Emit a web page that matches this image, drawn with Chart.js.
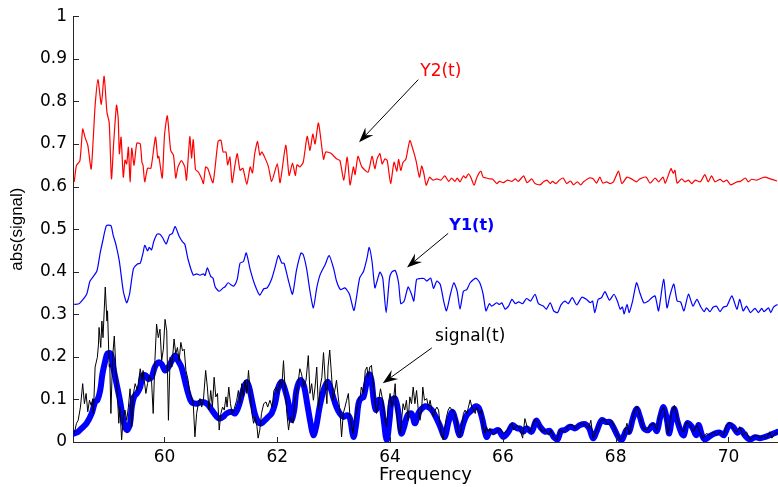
<!DOCTYPE html>
<html>
<head>
<meta charset="utf-8">
<script src="https://cdn.jsdelivr.net/npm/chart.js@4.4.1/dist/chart.umd.min.js"></script>
<style>
  html, body { margin: 0; padding: 0; background: #fff; }
</style>
</head>
<body>
<canvas id="spectrumChart" width="778" height="487"></canvas>
<script>
// Y2(t) - red trace
var y2Freq = [
  58.40,58.44,58.50,58.55,58.59,58.64,58.70,58.74,58.77,58.82,
  58.88,58.93,58.98,59.02,59.06,59.10,59.15,59.18,59.20,59.23,
  59.27,59.30,59.33,59.36,59.39,59.42,59.46,59.51,59.57,59.60,
  59.62,59.65,59.70,59.76,59.84,59.88,59.90,59.96,60.00,60.05,
  60.11,60.16,60.20,60.24,60.30,60.36,60.39,60.45,60.48,60.51,
  60.55,60.60,60.66,60.69,60.73,60.77,60.86,60.95,61.00,61.04,
  61.09,61.12,61.16,61.20,61.25,61.29,61.34,61.39,61.46,61.52,
  61.56,61.60,61.65,61.69,61.73,61.84,61.90,62.00,62.05,62.15,
  62.21,62.27,62.32,62.35,62.40,62.46,62.53,62.58,62.63,62.67,
  62.73,62.82,62.86,62.95,63.05,63.11,63.18,63.24,63.29,63.35,
  63.38,63.43,63.50,63.61,63.68,63.73,63.77,63.82,63.86,63.91,
  63.95,64.01,64.07,64.12,64.15,64.19,64.23,64.28,64.35,64.41,
  64.46,64.52,64.56,64.60,64.64,64.70,64.76,64.83,64.90,64.97,
  65.04,65.09,65.15,65.19,65.24,65.30,65.34,65.39,65.43,65.49,
  65.54,65.61,65.65,65.71,65.77,65.82,65.89,65.94,66.01,66.08,
  66.16,66.22,66.27,66.33,66.37,66.43,66.51,66.57,66.66,66.72,
  66.78,66.84,66.88,66.94,67.00,67.07,67.13,67.20,67.25,67.32,
  67.38,67.43,67.53,67.60,67.66,67.72,67.77,67.84,67.90,67.96,
  68.05,68.11,68.20,68.28,68.37,68.43,68.54,68.61,68.70,68.76,
  68.84,68.88,68.98,69.02,69.05,69.09,69.17,69.23,69.29,69.35,
  69.41,69.50,69.58,69.64,69.70,69.76,69.85,69.91,69.97,70.04,
  70.15,70.21,70.30,70.35,70.41,70.50,70.59,70.65,70.74,70.86
];
var y2Val = [
  0.611,0.650,0.660,0.735,0.716,0.697,0.641,0.720,0.790,0.851,
  0.793,0.859,0.774,0.750,0.618,0.704,0.791,0.758,0.677,0.716,
  0.622,0.662,0.653,0.692,0.611,0.690,0.650,0.702,0.700,0.657,
  0.650,0.611,0.643,0.643,0.716,0.667,0.671,0.620,0.720,0.766,
  0.685,0.673,0.620,0.646,0.661,0.646,0.615,0.717,0.667,0.710,
  0.640,0.634,0.618,0.607,0.646,0.642,0.609,0.706,0.709,0.681,
  0.681,0.651,0.669,0.609,0.651,0.677,0.638,0.643,0.605,0.646,
  0.632,0.677,0.706,0.674,0.681,0.648,0.612,0.653,0.609,0.697,
  0.626,0.655,0.626,0.651,0.646,0.657,0.718,0.685,0.723,0.700,
  0.749,0.664,0.681,0.678,0.665,0.661,0.615,0.669,0.604,0.646,
  0.628,0.671,0.646,0.634,0.671,0.642,0.665,0.677,0.653,0.665,
  0.661,0.607,0.657,0.636,0.664,0.638,0.657,0.664,0.708,0.685,
  0.661,0.622,0.648,0.630,0.603,0.622,0.615,0.618,0.615,0.625,
  0.612,0.620,0.612,0.620,0.611,0.625,0.620,0.630,0.622,0.603,
  0.622,0.636,0.622,0.620,0.618,0.617,0.607,0.612,0.609,0.615,
  0.612,0.618,0.612,0.620,0.625,0.609,0.618,0.607,0.604,0.611,
  0.615,0.607,0.612,0.607,0.615,0.620,0.607,0.613,0.604,0.611,
  0.604,0.611,0.620,0.618,0.608,0.622,0.608,0.611,0.607,0.611,
  0.636,0.607,0.622,0.618,0.611,0.618,0.622,0.608,0.620,0.611,
  0.622,0.608,0.642,0.631,0.638,0.608,0.618,0.611,0.615,0.607,
  0.615,0.611,0.628,0.611,0.625,0.611,0.617,0.611,0.615,0.604,
  0.611,0.612,0.620,0.611,0.617,0.615,0.620,0.622,0.618,0.613
];

// Y1(t) - thin blue trace
var y1Freq = [
  58.40,58.49,58.62,58.68,58.80,58.86,58.91,58.97,59.05,59.09,
  59.14,59.20,59.27,59.33,59.38,59.45,59.52,59.57,59.62,59.65,
  59.70,59.73,59.77,59.81,59.87,59.92,59.97,60.03,60.09,60.14,
  60.19,60.26,60.32,60.36,60.42,60.51,60.57,60.63,60.69,60.72,
  60.76,60.82,60.86,60.90,60.97,61.04,61.07,61.13,61.19,61.23,
  61.29,61.34,61.40,61.45,61.52,61.60,61.69,61.76,61.82,61.90,
  61.96,62.02,62.08,62.12,62.20,62.27,62.34,62.42,62.46,62.52,
  62.58,62.64,62.70,62.76,62.85,62.92,63.00,63.05,63.12,63.20,
  63.28,63.36,63.46,63.53,63.59,63.63,63.68,63.73,63.77,63.82,
  63.87,63.93,63.99,64.03,64.09,64.15,64.19,64.25,64.32,64.38,
  64.42,64.47,64.53,64.60,64.65,64.72,64.77,64.83,64.89,64.95,
  65.00,65.07,65.13,65.19,65.24,65.30,65.36,65.42,65.52,65.59,
  65.65,65.70,65.76,65.80,65.89,65.94,65.98,66.04,66.10,66.16,
  66.22,66.28,66.35,66.42,66.49,66.57,66.63,66.72,66.77,66.84,
  66.90,66.97,67.03,67.10,67.16,67.23,67.31,67.40,67.48,67.55,
  67.59,67.63,67.69,67.75,67.81,67.89,67.97,68.03,68.08,68.12,
  68.15,68.20,68.24,68.30,68.37,68.43,68.50,68.58,68.64,68.70,
  68.76,68.85,68.91,68.96,69.03,69.09,69.15,69.21,69.29,69.37,
  69.44,69.51,69.57,69.61,69.67,69.73,69.79,69.85,69.91,69.97,
  70.06,70.15,70.20,70.26,70.32,70.39,70.47,70.53,70.59,70.63,
  70.71,70.75,70.80,70.87
];
var y1Val = [
  0.323,0.325,0.347,0.378,0.401,0.444,0.475,0.508,0.508,0.486,
  0.463,0.424,0.354,0.327,0.347,0.407,0.418,0.420,0.444,0.462,
  0.449,0.457,0.451,0.471,0.488,0.488,0.479,0.465,0.486,0.490,
  0.506,0.483,0.470,0.465,0.428,0.392,0.395,0.392,0.395,0.391,
  0.409,0.389,0.385,0.364,0.354,0.362,0.364,0.374,0.368,0.366,
  0.382,0.420,0.424,0.444,0.405,0.370,0.345,0.360,0.362,0.383,
  0.410,0.438,0.420,0.420,0.378,0.347,0.403,0.444,0.440,0.407,
  0.354,0.315,0.362,0.393,0.417,0.438,0.407,0.378,0.358,0.362,
  0.347,0.309,0.385,0.401,0.431,0.457,0.424,0.362,0.378,0.399,
  0.385,0.304,0.385,0.399,0.403,0.374,0.325,0.331,0.364,0.347,
  0.331,0.382,0.384,0.384,0.378,0.385,0.361,0.378,0.370,0.331,
  0.308,0.347,0.374,0.354,0.312,0.354,0.358,0.374,0.385,0.374,
  0.347,0.308,0.325,0.319,0.327,0.323,0.327,0.312,0.319,0.335,
  0.325,0.329,0.325,0.337,0.331,0.347,0.325,0.319,0.312,0.327,
  0.308,0.304,0.322,0.331,0.325,0.339,0.322,0.340,0.335,0.327,
  0.331,0.304,0.335,0.339,0.353,0.333,0.347,0.331,0.312,0.317,
  0.301,0.323,0.304,0.331,0.374,0.350,0.327,0.331,0.339,0.343,
  0.308,0.382,0.315,0.343,0.371,0.331,0.329,0.308,0.347,0.319,
  0.335,0.317,0.306,0.315,0.306,0.317,0.319,0.306,0.317,0.319,
  0.343,0.312,0.335,0.308,0.319,0.304,0.314,0.304,0.314,0.306,
  0.315,0.304,0.317,0.323
];

// signal(t) - thin black trace
var sigFreq = [
  58.40,58.44,58.47,58.51,58.55,58.58,58.61,58.64,58.67,58.70,
  58.73,58.74,58.77,58.81,58.83,58.84,58.87,58.89,58.91,58.95,
  58.98,58.99,59.02,59.03,59.05,59.08,59.11,59.14,59.17,59.19,
  59.21,59.24,59.27,59.30,59.33,59.36,59.39,59.42,59.45,59.48,
  59.52,59.57,59.60,59.62,59.67,59.70,59.73,59.77,59.80,59.83,
  59.86,59.89,59.92,59.95,59.98,60.01,60.04,60.07,60.10,60.13,
  60.17,60.20,60.23,60.26,60.29,60.32,60.35,60.38,60.42,60.45,
  60.48,60.51,60.54,60.57,60.60,60.63,60.66,60.69,60.73,60.76,
  60.79,60.82,60.85,60.88,60.91,60.94,60.97,61.00,61.03,61.06,
  61.09,61.11,61.14,61.17,61.20,61.23,61.28,61.31,61.34,61.37,
  61.40,61.43,61.46,61.49,61.52,61.55,61.58,61.61,61.64,61.66,
  61.69,61.72,61.76,61.80,61.83,61.87,61.91,61.94,61.98,62.01,
  62.05,62.08,62.11,62.14,62.17,62.20,62.23,62.28,62.31,62.36,
  62.40,62.43,62.47,62.51,62.55,62.58,62.61,62.64,62.67,62.70,
  62.73,62.76,62.79,62.82,62.85,62.88,62.90,62.93,62.96,62.99,
  63.02,63.05,63.08,63.11,63.14,63.17,63.20,63.23,63.26,63.29,
  63.31,63.34,63.37,63.41,63.44,63.47,63.49,63.53,63.56,63.59,
  63.61,63.64,63.67,63.70,63.73,63.76,63.79,63.83,63.87,63.91,
  63.94,63.97,64.00,64.03,64.06,64.09,64.11,64.14,64.18,64.21,
  64.23,64.26,64.29,64.32,64.35,64.38,64.41,64.44,64.47,64.50,
  64.53,64.56,64.58,64.61,64.65,64.68,64.71,64.74,64.77,64.80,
  64.83,64.86,64.89,64.91,64.94,64.97,65.00,65.03,65.06,65.10,
  65.14,65.18,65.21,65.24,65.27,65.30,65.33,65.36,65.39,65.42,
  65.45,65.48,65.51,65.53,65.56,65.59,65.62,65.65,65.68,65.71,
  65.74,65.77,65.83,65.89,65.95,66.01,66.07,66.13,66.16,66.19,
  66.25,66.30,66.35,66.39,66.43,66.48,66.57,66.63,66.69,66.75,
  66.81,66.85,66.90,66.96,67.01,67.07,67.13,67.19,67.24,67.28,
  67.34,67.40,67.46,67.52,67.56,67.60,67.65,67.69,67.75,67.81,
  67.87,67.93,67.97,68.02,68.08,68.14,68.20,68.24,68.30,68.34,
  68.38,68.43,68.49,68.55,68.62,68.67,68.73,68.79,68.85,68.89,
  68.93,68.99,69.04,69.09,69.15,69.20,69.26,69.32,69.38,69.44,
  69.49,69.55,69.61,69.67,69.73,69.79,69.85,69.91,69.96,70.00,
  70.04,70.10,70.15,70.20,70.26,70.32,70.38,70.44,70.50,70.56,
  70.62,70.68,70.73,70.77,70.83,70.87
];
var sigVal = [
  0.020,0.044,0.051,0.082,0.137,0.090,0.114,0.071,0.098,0.086,
  0.102,0.067,0.176,0.199,0.230,0.269,0.222,0.284,0.245,0.364,
  0.284,0.308,0.176,0.183,0.067,0.199,0.249,0.168,0.098,0.044,
  0.082,0.005,0.059,0.075,0.051,0.082,0.125,0.036,0.114,0.137,
  0.121,0.172,0.145,0.168,0.114,0.137,0.156,0.145,0.067,0.191,
  0.277,0.245,0.265,0.191,0.218,0.288,0.261,0.051,0.199,0.176,
  0.242,0.207,0.222,0.191,0.234,0.214,0.218,0.168,0.145,0.114,
  0.106,0.090,0.012,0.067,0.090,0.102,0.082,0.098,0.168,0.129,
  0.075,0.121,0.082,0.152,0.106,0.114,0.028,0.067,0.082,0.075,
  0.106,0.082,0.129,0.090,0.067,0.075,0.098,0.121,0.090,0.137,
  0.106,0.145,0.114,0.168,0.114,0.067,0.044,0.059,0.036,0.009,
  0.028,0.067,0.090,0.094,0.082,0.098,0.082,0.121,0.129,0.114,
  0.145,0.129,0.191,0.121,0.067,0.028,0.059,0.044,0.098,0.129,
  0.172,0.160,0.129,0.145,0.203,0.114,0.137,0.098,0.129,0.176,
  0.075,0.129,0.152,0.210,0.145,0.090,0.176,0.216,0.160,0.098,
  0.121,0.145,0.106,0.075,0.012,0.067,0.082,0.098,0.114,0.059,
  0.044,0.020,0.051,0.075,0.098,0.106,0.129,0.114,0.168,0.176,
  0.152,0.176,0.180,0.137,0.098,0.067,0.090,0.125,0.098,0.051,
  0.036,0.090,0.114,0.082,0.098,0.137,0.075,0.036,0.020,0.059,
  0.090,0.075,0.098,0.051,0.106,0.090,0.129,0.090,0.121,0.075,
  0.051,0.075,0.129,0.098,0.102,0.082,0.098,0.075,0.059,0.075,
  0.082,0.075,0.036,0.020,0.005,0.036,0.059,0.075,0.082,0.075,
  0.067,0.051,0.020,0.012,0.036,0.067,0.075,0.067,0.082,0.099,
  0.082,0.075,0.067,0.082,0.075,0.067,0.075,0.036,0.020,0.036,
  0.024,0.032,0.016,0.024,0.032,0.020,0.028,0.036,0.044,0.028,
  0.040,0.032,0.009,0.055,0.036,0.024,0.053,0.044,0.024,0.028,
  0.016,0.028,0.012,0.005,0.028,0.024,0.032,0.040,0.040,0.032,
  0.040,0.044,0.040,0.032,0.051,0.009,0.024,0.036,0.053,0.051,
  0.040,0.051,0.036,0.020,0.005,0.012,0.044,0.020,0.055,0.075,
  0.084,0.059,0.032,0.028,0.040,0.044,0.028,0.067,0.082,0.055,
  0.020,0.067,0.086,0.055,0.032,0.024,0.047,0.040,0.024,0.040,
  0.024,0.009,0.020,0.016,0.024,0.016,0.024,0.016,0.036,0.044,
  0.044,0.028,0.024,0.036,0.016,0.024,0.005,0.012,0.016,0.009,
  0.014,0.009,0.024,0.009,0.022,0.020
];

// smoothed signal - thick blue trace
var smoothFreq = [
  58.40,58.47,58.53,58.62,58.71,58.77,58.81,58.86,58.90,58.95,
  58.99,59.05,59.09,59.15,59.21,59.26,59.30,59.34,59.39,59.42,
  59.46,59.51,59.57,59.61,59.67,59.71,59.77,59.83,59.89,59.95,
  60.01,60.07,60.13,60.19,60.24,60.30,60.36,60.42,60.48,60.57,
  60.66,60.75,60.84,60.93,60.98,61.04,61.10,61.19,61.25,61.31,
  61.37,61.41,61.46,61.50,61.55,61.60,61.66,61.72,61.78,61.84,
  61.90,61.96,62.02,62.08,62.14,62.20,62.25,62.30,62.34,62.41,62.47,
  62.53,62.59,62.64,62.69,62.75,62.82,62.89,62.94,62.99,63.05,
  63.11,63.17,63.24,63.29,63.35,63.40,63.44,63.48,63.53,63.58,
  63.63,63.67,63.71,63.75,63.79,63.83,63.88,63.94,63.99,64.03,
  64.09,64.15,64.20,64.25,64.31,64.38,64.44,64.50,64.56,64.62,
  64.68,64.74,64.81,64.89,64.97,65.03,65.10,65.16,65.23,65.30,
  65.36,65.45,65.52,65.58,65.64,65.71,65.77,65.84,65.92,66.01,
  66.10,66.17,66.25,66.30,66.36,66.42,66.51,66.59,66.66,66.75,
  66.83,66.90,66.97,67.03,67.10,67.19,67.28,67.37,67.46,67.53,
  67.60,67.66,67.75,67.83,67.90,67.97,68.05,68.11,68.19,68.24,
  68.30,68.37,68.43,68.50,68.58,68.66,68.73,68.79,68.85,68.91,
  68.95,69.00,69.04,69.09,69.17,69.21,69.27,69.35,69.43,69.47,
  69.53,69.58,69.67,69.76,69.85,69.92,70.01,70.08,70.16,70.22,
  70.30,70.38,70.47,70.56,70.65,70.73,70.80,70.87
];
var smoothVal = [
  0.020,0.024,0.032,0.044,0.067,0.094,0.098,0.121,0.160,0.191,
  0.208,0.207,0.176,0.137,0.098,0.059,0.036,0.028,0.044,0.082,
  0.106,0.114,0.129,0.156,0.156,0.148,0.152,0.176,0.187,0.183,
  0.168,0.176,0.191,0.203,0.191,0.176,0.145,0.114,0.094,0.090,
  0.094,0.090,0.075,0.059,0.055,0.059,0.067,0.071,0.067,0.082,
  0.110,0.129,0.141,0.129,0.098,0.067,0.047,0.044,0.051,0.059,
  0.067,0.090,0.129,0.141,0.121,0.090,0.052,0.075,0.121,0.145,0.133,
  0.090,0.044,0.016,0.036,0.082,0.121,0.141,0.129,0.106,0.082,
  0.067,0.059,0.063,0.055,0.012,0.044,0.090,0.102,0.106,0.137,
  0.159,0.145,0.098,0.075,0.098,0.098,0.059,0.005,0.051,0.098,
  0.102,0.067,0.020,0.036,0.063,0.067,0.044,0.067,0.078,0.084,
  0.082,0.075,0.059,0.036,0.012,0.044,0.071,0.051,0.016,0.044,
  0.063,0.075,0.084,0.078,0.051,0.012,0.024,0.024,0.028,0.012,
  0.024,0.040,0.032,0.032,0.024,0.032,0.024,0.050,0.036,0.024,
  0.026,0.012,0.006,0.026,0.028,0.036,0.032,0.040,0.042,0.032,
  0.009,0.024,0.051,0.047,0.047,0.032,0.011,0.005,0.028,0.024,
  0.053,0.078,0.059,0.032,0.028,0.040,0.026,0.059,0.082,0.051,
  0.020,0.059,0.078,0.051,0.020,0.016,0.044,0.036,0.016,0.040,
  0.016,0.006,0.014,0.020,0.022,0.016,0.040,0.036,0.022,0.028,
  0.014,0.006,0.011,0.009,0.012,0.016,0.020,0.024
];

var xTicks = [60, 62, 64, 66, 68, 70];
var yTicks = [0, 0.1, 0.2, 0.3, 0.4, 0.5, 0.6, 0.7, 0.8, 0.9, 1];

// text labels with arrows, positions in data units
var notes = [
  { text: "Y2(t)", color: "#ff0000", bold: false, at: [64.90, 0.869], from: [64.50, 0.851], to: [63.45, 0.704] },
  { text: "Y1(t)", color: "#0000ff", bold: true, at: [65.45, 0.508], from: [65.03, 0.490], to: [64.30, 0.410] },
  { text: "signal(t)", color: "#000000", bold: false, at: [65.42, 0.247], from: [64.74, 0.221], to: [63.87, 0.138] }
];

var FONT = '"DejaVu Sans", sans-serif';

function toPoints(xs, ys) {
  return xs.map(function (x, i) { return { x: x, y: ys[i] }; });
}

function drawArrow(ctx, x1, y1, x2, y2) {
  var a = Math.atan2(y2 - y1, x2 - x1);
  var c = Math.cos(a), s = Math.sin(a);
  var len = 15, half = 5.5, notch = 0.65;
  ctx.beginPath();
  ctx.moveTo(x1, y1);
  ctx.lineTo(x2 - c * len * notch, y2 - s * len * notch);
  ctx.stroke();
  ctx.beginPath();
  ctx.moveTo(x2, y2);
  ctx.lineTo(x2 - c * len + s * half, y2 - s * len - c * half);
  ctx.lineTo(x2 - c * len * notch, y2 - s * len * notch);
  ctx.lineTo(x2 - c * len - s * half, y2 - s * len + c * half);
  ctx.closePath();
  ctx.fill();
}

var axisExtras = {
  id: "axisExtras",
  afterDatasetsDraw: function (chart) {
    var ctx = chart.ctx;
    var xs = chart.scales.x, ys = chart.scales.y, area = chart.chartArea;
    ctx.save();
    // inward tick marks
    ctx.strokeStyle = "#262626";
    ctx.lineWidth = 1;
    ctx.beginPath();
    xTicks.forEach(function (v) {
      var px = Math.round(xs.getPixelForValue(v)) + 0.5;
      ctx.moveTo(px, area.bottom);
      ctx.lineTo(px, area.bottom - 5);
    });
    yTicks.forEach(function (v) {
      var py = Math.round(ys.getPixelForValue(v)) + 0.5;
      ctx.moveTo(area.left, py);
      ctx.lineTo(area.left + 6, py);
    });
    ctx.stroke();

    // annotations
    notes.forEach(function (n) {
      ctx.strokeStyle = "#000";
      ctx.fillStyle = "#000";
      ctx.lineWidth = 1;
      drawArrow(ctx,
        xs.getPixelForValue(n.from[0]), ys.getPixelForValue(n.from[1]),
        xs.getPixelForValue(n.to[0]), ys.getPixelForValue(n.to[1]));
      ctx.fillStyle = n.color;
      ctx.font = (n.bold ? "bold 16px " : "17px ") + FONT;
      ctx.textAlign = "center";
      ctx.textBaseline = "middle";
      ctx.fillText(n.text, xs.getPixelForValue(n.at[0]), ys.getPixelForValue(n.at[1]));
    });
    ctx.restore();
  }
};

new Chart(document.getElementById("spectrumChart"), {
  type: "line",
  data: {
    datasets: [
      {
        label: "signal(t)",
        data: toPoints(sigFreq, sigVal),
        borderColor: "#000000",
        borderWidth: 1,
        pointRadius: 0,
        tension: 0,
        order: 0
      },
      {
        label: "smoothed",
        data: toPoints(smoothFreq, smoothVal),
        borderColor: "#0000ff",
        borderWidth: 6,
        borderJoinStyle: "round",
        borderCapStyle: "round",
        pointRadius: 0,
        tension: 0.35,
        order: 1
      },
      {
        label: "Y1(t)",
        data: toPoints(y1Freq, y1Val),
        borderColor: "#0000ff",
        borderWidth: 1.2,
        pointRadius: 0,
        tension: 0.2,
        order: 2
      },
      {
        label: "Y2(t)",
        data: toPoints(y2Freq, y2Val),
        borderColor: "#ff0000",
        borderWidth: 1.2,
        pointRadius: 0,
        tension: 0.2,
        order: 3
      }
    ]
  },
  options: {
    responsive: false,
    animation: false,
    devicePixelRatio: 1,
    layout: { padding: { top: 13, right: 0, bottom: 0, left: 0 } },
    plugins: {
      legend: { display: false },
      tooltip: { enabled: false }
    },
    scales: {
      x: {
        type: "linear",
        min: 58.378,
        max: 70.878,
        grid: { display: false, drawTicks: false },
        border: { display: true, color: "#262626", width: 1 },
        afterBuildTicks: function (scale) {
          scale.ticks = xTicks.map(function (v) { return { value: v }; });
        },
        afterFit: function (scale) { scale.height = 45; },
        ticks: {
          color: "#000",
          padding: 5,
          maxRotation: 0,
          autoSkip: false,
          font: { family: FONT, size: 17 },
          callback: function (v) { return String(v); }
        },
        title: {
          display: true,
          text: "Frequency",
          color: "#000",
          font: { family: FONT, size: 18 },
          padding: { top: 0, bottom: 1 }
        }
      },
      y: {
        min: 0,
        max: 1,
        grid: { display: false, drawTicks: false },
        border: { display: true, color: "#262626", width: 1 },
        afterBuildTicks: function (scale) {
          scale.ticks = yTicks.map(function (v) { return { value: v }; });
        },
        afterFit: function (scale) { scale.width = 73; },
        ticks: {
          color: "#000",
          padding: 6,
          autoSkip: false,
          font: { family: FONT, size: 17 },
          callback: function (v) { return String(+Number(v).toFixed(1)); }
        },
        title: {
          display: true,
          text: "abs(signal)",
          color: "#000",
          font: { family: '"Liberation Sans", Arial, sans-serif', size: 17 },
          padding: { top: 7, bottom: 0 }
        }
      }
    }
  },
  plugins: [axisExtras]
});
</script>
</body>
</html>
